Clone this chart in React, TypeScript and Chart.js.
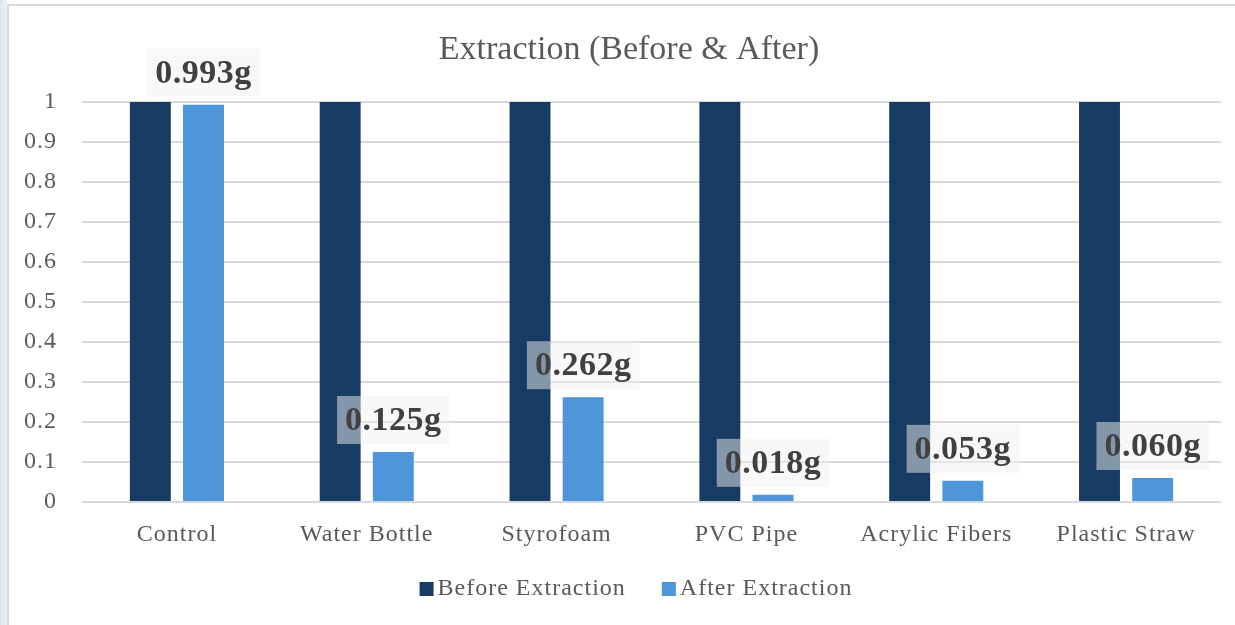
import React, { useEffect, useRef } from "react";
import { Chart, registerables } from "chart.js";

Chart.register(...registerables);

const categories = ["Control", "Water Bottle", "Styrofoam", "PVC Pipe", "Acrylic Fibers", "Plastic Straw"];
const beforeValues = [1, 1, 1, 1, 1, 1];
const afterValues = [0.993, 0.125, 0.262, 0.018, 0.053, 0.06];
const yTickLabels = ["0", "0.1", "0.2", "0.3", "0.4", "0.5", "0.6", "0.7", "0.8", "0.9", "1"];
const seriesNames = ["Before Extraction", "After Extraction"];
const titleText = "Extraction (Before & After)";

const DARK = "#173B63";
const LIGHT = "#4E95D9";
const TEXT = "#595959";
const SERIF = '"Liberation Serif", "Times New Roman", serif';

const customPlugin = {
  id: "customDraw",
  beforeDraw(chart: any) {
    (chart.ctx as any).letterSpacing = "1px";
  },
  afterDatasetsDraw(chart: any) {
    const ctx = chart.ctx;
    const meta = chart.getDatasetMeta(1);
    ctx.save();
    (ctx as any).letterSpacing = "0.5px";
    ctx.font = `bold 34px ${SERIF}`;
    meta.data.forEach((bar: any, i: number) => {
      const text = afterValues[i].toFixed(3) + "g";
      const w = ctx.measureText(text).width + 16;
      const h = 48;
      const x = bar.x - w / 2;
      const y = bar.y - 8 - h;
      ctx.fillStyle = "rgba(242,242,242,0.5)";
      ctx.fillRect(x, y, w, h);
      ctx.fillStyle = "#404040";
      ctx.textAlign = "center";
      ctx.textBaseline = "middle";
      ctx.fillText(text, bar.x, y + h / 2 + 1);
    });
    ctx.restore();
  },
  afterDraw(chart: any) {
    const ctx = chart.ctx;
    ctx.save();
    // title
    (ctx as any).letterSpacing = "0px";
    ctx.font = `34px ${SERIF}`;
    ctx.fillStyle = TEXT;
    ctx.textAlign = "center";
    ctx.textBaseline = "middle";
    ctx.fillText(titleText, 620, 44);
    // legend
    (ctx as any).letterSpacing = "1px";
    ctx.font = `24px ${SERIF}`;
    const box = 14;
    const gap = 4;
    const spacing = 36;
    const colors = [DARK, LIGHT];
    const widths = seriesNames.map((n) => box + gap + ctx.measureText(n).width);
    const total = widths[0] + spacing + widths[1];
    let x = 627 - total / 2;
    const cy = 582;
    ctx.textAlign = "left";
    seriesNames.forEach((n, i) => {
      ctx.fillStyle = colors[i];
      ctx.fillRect(x, cy - 6, box, box);
      ctx.fillStyle = TEXT;
      ctx.fillText(n, x + box + gap, cy + 1);
      x += widths[i] + spacing;
    });
    ctx.restore();
  },
};

export default function App() {
  const canvasRef = useRef<HTMLCanvasElement | null>(null);

  useEffect(() => {
    if (!canvasRef.current) return;
    const chart = new Chart(canvasRef.current, {
      type: "bar",
      data: {
        labels: categories,
        datasets: [
          {
            label: seriesNames[0],
            data: beforeValues,
            backgroundColor: DARK,
            categoryPercentage: 0.56,
            barPercentage: 0.77,
          },
          {
            label: seriesNames[1],
            data: afterValues,
            backgroundColor: LIGHT,
            categoryPercentage: 0.56,
            barPercentage: 0.77,
          },
        ],
      },
      options: {
        animation: false,
        responsive: true,
        maintainAspectRatio: false,
        layout: { padding: { top: 96, right: 14, bottom: 67, left: 0 } },
        plugins: {
          legend: { display: false },
          title: { display: false },
          tooltip: { enabled: false },
        },
        scales: {
          x: {
            grid: { display: false },
            border: { display: false },
            ticks: {
              color: TEXT,
              font: { family: SERIF, size: 24 },
              padding: 10,
              maxRotation: 0,
              autoSkip: false,
            },
            afterFit(scale: any) {
              scale.height = 56;
            },
          },
          y: {
            min: 0,
            max: 1,
            border: { display: false },
            grid: { color: "#D9D9D9", lineWidth: 2, drawTicks: false },
            ticks: {
              stepSize: 0.1,
              color: TEXT,
              font: { family: SERIF, size: 24 },
              padding: 25,
              callback: (_v: any, i: number) => yTickLabels[i],
            },
            afterFit(scale: any) {
              scale.width = 73;
            },
          },
        },
      },
      plugins: [customPlugin],
    });
    return () => chart.destroy();
  }, []);

  return (
    <div
      style={{
        position: "fixed",
        left: 0,
        top: 0,
        width: 1235,
        height: 625,
        background: "#ffffff",
        overflow: "hidden",
      }}
    >
      <div
        style={{
          position: "absolute",
          left: 0,
          top: 0,
          width: 7,
          height: 625,
          background: "linear-gradient(to right, #d6e8f5, #eaf3fa)",
        }}
      />
      <div
        style={{
          position: "absolute",
          left: 7,
          top: 4,
          width: 1228,
          height: 621,
          borderLeft: "2px solid #D9D9D9",
          borderTop: "2px solid #D9D9D9",
          background: "#ffffff",
        }}
      >
        <div style={{ position: "relative", width: 1226, height: 619 }}>
          <canvas ref={canvasRef} />
        </div>
      </div>
    </div>
  );
}
